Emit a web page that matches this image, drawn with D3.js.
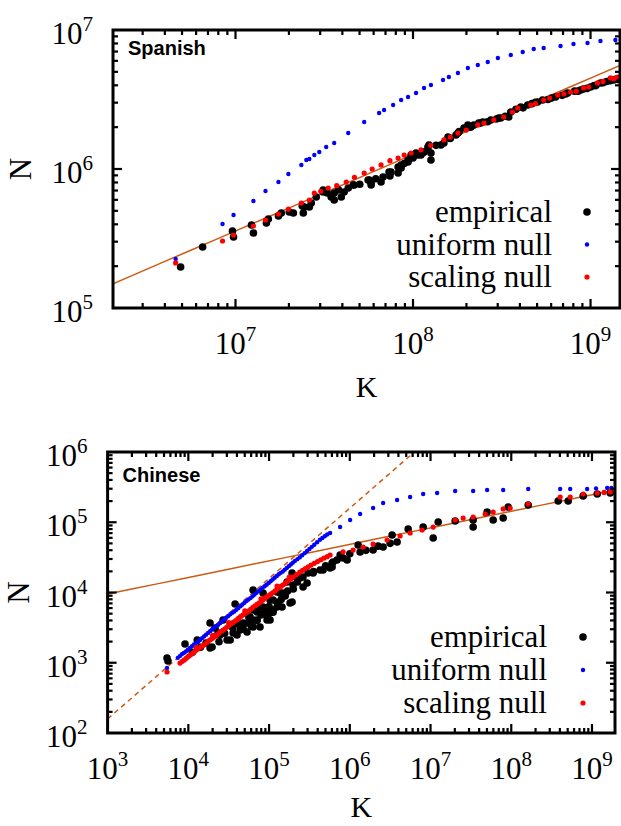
<!DOCTYPE html>
<html><head><meta charset="utf-8">
<script src="https://cdn.jsdelivr.net/npm/d3@7"></script>
<style>body{margin:0;background:#fff}</style>
</head><body>
<script>
// ---- DATA (log10 K, log10 N) ----
const spanishEmpirical = [
 [6.691,5.295],[6.815,5.439],[6.983,5.554],[6.989,5.511],[7.090,5.597],[7.101,5.540],[7.174,5.612],[7.185,5.640],
 [7.242,5.662],[7.258,5.683],[7.303,5.691],[7.326,5.683],[7.382,5.683],[7.376,5.734],[7.416,5.727],[7.455,5.799],
 [7.388,5.727],[7.427,5.755],[7.494,5.835],[7.539,5.799],[7.556,5.777],[7.596,5.799],[7.612,5.835],[7.669,5.885],
 [7.753,5.921],[7.764,5.885],[7.820,5.906],[7.831,5.942],[7.876,5.978],[7.916,5.971],[7.916,6.014],[7.933,6.029],
 [7.972,6.050],[7.989,6.086],[8.028,6.101],[8.062,6.122],[8.084,6.158],[8.101,6.065],[8.101,6.115],[8.157,6.173],
 [8.174,6.187],[8.202,6.223],[8.253,6.259],[8.287,6.295],[8.326,6.302],[8.382,6.331],[8.438,6.353],[8.483,6.367],
 [7.494,5.849],[7.517,5.827],[7.556,5.827],[7.58,5.85],[7.635,5.863],[7.663,5.885],[7.70,5.89],[7.747,5.921],
 [7.764,5.899],[7.79,5.93],[7.865,5.978],[7.87,5.95],[7.933,6.007],[7.95,6.04],[7.972,6.065],[7.989,6.101],
 [8.00,6.08],[8.017,6.115],[8.045,6.101],[8.06,6.12],[8.084,6.137],[8.090,6.173],[8.13,6.17],[8.197,6.230],
 [8.21,6.22],[8.242,6.245],[8.26,6.27],[8.309,6.317],[8.32,6.30],[8.343,6.317],[8.37,6.33],[8.393,6.338],
 [8.42,6.34],[8.47,6.36],[8.494,6.367],[8.52,6.38],[8.539,6.374],[8.551,6.410],[8.58,6.43],[8.607,6.446],
 [8.62,6.44],[8.646,6.460],[8.67,6.47],[8.69,6.48],[8.702,6.482],[8.730,6.496],[8.76,6.50],[8.78,6.51],
 [8.803,6.518],[8.84,6.53],[8.86,6.54],[8.871,6.547],[8.91,6.56],[8.93,6.56],[8.944,6.568],[8.96,6.575],
 [8.98,6.58],[9.000,6.590],[9.02,6.60],[9.03,6.60],[9.056,6.619],[9.07,6.62],[9.09,6.63],[9.11,6.635],
 [9.129,6.640],[9.14,6.645],[9.15,6.645]
];
const spanishUniform = [
 [6.663,5.353],[6.927,5.604],[6.989,5.669],[7.101,5.770],[7.169,5.842],[7.242,5.906],[7.298,5.964],[7.371,6.029],
 [7.399,6.065],[7.416,6.072],[7.444,6.101],[7.472,6.122],[7.511,6.158],[7.556,6.187],[7.635,6.259],[7.725,6.338],
 [7.809,6.403],[7.837,6.424],[7.888,6.460],[7.933,6.496],[7.972,6.518],[8.017,6.547],[8.062,6.583],[8.101,6.604],
 [8.169,6.640],[8.202,6.662],[8.253,6.691],[8.309,6.727],[8.365,6.748],[8.421,6.770],[8.478,6.799],[8.551,6.820],
 [8.618,6.842],[8.680,6.863],[8.736,6.871],[8.831,6.885],[8.904,6.899],[8.983,6.906],[9.056,6.921],[9.140,6.928]
];
const spanishScaling = [
 [6.663,5.324],[6.927,5.482],[6.989,5.525],[7.101,5.590],[7.169,5.633],[7.242,5.676],[7.298,5.712],[7.371,5.755],
 [7.416,5.777],[7.444,5.827],[7.48,5.84],[7.522,5.863],[7.57,5.88],[7.624,5.906],[7.67,5.94],[7.725,5.971],
 [7.77,6.00],[7.820,6.029],[7.87,6.06],[7.916,6.079],[7.95,6.10],[7.989,6.115],[8.045,6.137],[8.10,6.17],
 [8.174,6.209],[8.21,6.23],[8.253,6.259],[8.30,6.28],[8.365,6.317],[8.40,6.33],[8.455,6.353],[8.511,6.374],
 [8.56,6.41],[8.590,6.439],[8.663,6.460],[8.69,6.47],[8.736,6.496],[8.77,6.51],[8.815,6.532],[8.85,6.54],
 [8.888,6.554],[8.92,6.56],[8.961,6.583],[8.99,6.59],[9.039,6.619],[9.07,6.63],[9.112,6.655],[9.13,6.65],[9.152,6.662]
];
const spanishFit = [1.704, 0.55];          // log10 prefactor, exponent
const spanishXTicks = [7, 8, 9];
const spanishYTicks = [5, 6, 7];

const chineseEmpirical = [
 [3.736,3.068],[3.748,3.025],[3.959,3.267],[4.05,3.15],[4.110,3.324],[4.15,3.22],[4.22,3.28],[4.269,3.566],
 [4.269,3.210],[4.331,3.495],[4.38,3.30],[4.393,3.395],[4.45,3.42],[4.480,3.324],[4.518,3.324],[4.555,3.424],
 [4.55,3.50],[4.579,3.836],[4.603,3.395],[4.62,3.55],[4.641,3.466],[4.68,3.48],[4.727,3.566],[4.727,3.438],
 [4.75,3.65],[4.78,3.52],[4.802,3.609],[4.802,3.509],[4.802,4.036],[4.851,3.722],[4.851,3.609],[4.85,3.60],
 [4.888,3.509],[4.90,3.68],[4.926,3.794],[4.926,3.993],[4.95,3.75],[4.975,3.680],[5.00,3.80],[5.012,3.609],
 [5.012,3.708],[5.05,3.72],[5.050,3.893],[5.099,3.794],[5.10,3.86],[5.136,3.993],[5.15,3.90],[5.161,3.794],
 [5.173,3.993],[5.20,3.95],[5.23,4.02],[5.260,3.851],[5.285,4.278],[5.285,3.865],[5.297,4.107],[5.30,4.05],
 [5.35,4.15],[5.384,4.206],[5.42,4.22],[5.471,4.135],[5.483,4.278],[5.55,4.30],[5.632,4.320],[5.70,4.38],
 [4.294,3.224],[4.368,3.423],[4.430,3.609],[4.678,3.566],[4.765,3.651],[4.802,3.751],[4.888,3.794],[4.926,3.708],
 [4.975,3.609],[5.012,3.893],[5.050,3.751],[5.099,4.007],[5.111,3.851],[5.223,4.149],[5.347,4.206],[5.421,4.078],
 [5.545,4.278],[5.669,4.320],[5.793,4.434],[5.781,4.363],
 [5.756,4.349],[5.78,4.42],[5.842,4.463],[5.880,4.534],[5.917,4.491],[5.967,4.463],[6.00,4.55],[6.103,4.676],
 [6.128,4.577],[6.20,4.60],[6.289,4.605],[6.35,4.66],[6.413,4.648],[6.50,4.70],[6.524,4.819],[6.586,4.719],
 [6.723,4.904],[6.909,4.932],[7.033,4.776],[7.095,5.004],[7.305,5.018],[7.528,5.032],[7.528,4.932],[7.701,5.146],
 [7.776,5.032],[7.900,5.060],[7.962,5.217],[8.210,5.246],[8.581,5.302],[8.705,5.302],[8.891,5.374],[9.065,5.402],
 [9.226,5.416]
];
const chineseUniform = [
 [3.736,2.925],[3.87,3.07],[3.92,3.12],[3.97,3.16],[4.02,3.21],[4.07,3.26],[4.12,3.30],[4.17,3.35],[4.22,3.40],
 [4.27,3.45],[4.32,3.50],[4.37,3.54],[4.42,3.59],[4.47,3.64],[4.52,3.69],[4.57,3.73],[4.62,3.78],[4.67,3.83],
 [4.72,3.88],[4.77,3.92],[4.82,3.97],[4.87,4.02],[4.92,4.07],[4.97,4.11],[5.02,4.16],[5.07,4.21],[5.12,4.26],
 [5.17,4.30],[5.22,4.35],[5.27,4.40],[5.32,4.45],[5.38,4.50],[5.44,4.56],[5.50,4.62],[5.56,4.68],[5.63,4.75],
 [3.895,3.095],[3.945,3.14],[3.995,3.185],[4.045,3.235],[4.095,3.28],[4.145,3.325],[4.195,3.375],[4.245,3.425],
 [4.295,3.475],[4.345,3.52],[4.395,3.565],[4.445,3.615],[4.495,3.665],[4.545,3.71],[4.595,3.755],[4.645,3.805],
 [4.695,3.855],[4.745,3.90],[4.795,3.945],[4.845,3.995],[4.895,4.045],[4.945,4.09],[4.995,4.135],[5.045,4.185],
 [5.095,4.235],[5.145,4.28],[5.195,4.325],[5.245,4.375],[5.295,4.425],[5.35,4.475],[5.41,4.53],[5.47,4.59],
 [5.53,4.65],[5.595,4.715],[5.66,4.775],[5.72,4.825],
 [5.69,4.80],[5.756,4.847],[5.880,4.932],[6.004,5.032],[6.128,5.117],[6.289,5.203],[6.413,5.274],[6.586,5.317],
 [6.747,5.359],[6.909,5.402],[7.082,5.416],[7.305,5.445],[7.528,5.445],[7.701,5.459],[7.900,5.459],[8.210,5.473],
 [8.606,5.473],[8.730,5.473],[8.940,5.473],[9.05,5.48],[9.188,5.488],[9.24,5.49]
];
const chineseScaling = [
 [3.736,2.868],[3.897,2.996],[3.95,3.04],[4.00,3.09],[4.05,3.13],[4.10,3.18],[4.15,3.22],[4.20,3.26],[4.25,3.31],
 [4.30,3.35],[4.35,3.39],[4.40,3.44],[4.45,3.48],[4.50,3.53],[4.55,3.57],[4.60,3.61],[4.65,3.66],[4.70,3.70],
 [4.75,3.74],[4.80,3.79],[4.85,3.83],[4.90,3.87],[4.95,3.92],[5.00,3.96],[5.05,4.00],[5.10,4.05],[5.15,4.09],
 [5.20,4.13],[5.25,4.18],[5.30,4.22],[5.38,4.29],[5.45,4.34],[5.52,4.39],[5.60,4.44],[5.68,4.49],
 [3.925,3.02],[3.975,3.065],[4.025,3.11],[4.075,3.155],[4.125,3.20],[4.175,3.24],[4.225,3.285],[4.275,3.33],
 [4.325,3.37],[4.375,3.415],[4.425,3.46],[4.475,3.505],[4.525,3.55],[4.575,3.59],[4.625,3.635],[4.675,3.68],
 [4.725,3.72],[4.775,3.765],[4.825,3.81],[4.875,3.85],[4.925,3.895],[4.975,3.94],[5.025,3.98],[5.075,4.025],
 [5.125,4.07],[5.175,4.11],[5.225,4.155],[5.275,4.20],[5.34,4.255],[5.415,4.315],[5.485,4.365],[5.56,4.415],
 [5.64,4.465],[5.72,4.51],
 [4.10,3.22],[4.30,3.39],[4.50,3.57],[4.70,3.74],[4.90,3.91],[5.10,4.09],[5.25,4.22],
 [5.756,4.534],
 [5.917,4.577],[6.041,4.605],[6.165,4.648],[6.289,4.690],[6.462,4.747],[6.623,4.804],[6.747,4.847],[6.896,4.890],
 [7.033,4.932],[7.305,5.032],[7.404,5.060],[7.528,5.075],[7.677,5.117],[7.776,5.146],[7.900,5.189],[7.987,5.203],
 [8.210,5.260],[8.606,5.359],[8.730,5.359],[8.891,5.402],[9.065,5.416],[9.15,5.425],[9.226,5.431]
];
const chineseFitSmall = [-0.8, 1.0];       // dashed
const chineseFitLarge = [3.272, 0.2355];   // solid
const chineseXTicks = [3, 4, 5, 6, 7, 8, 9];
const chineseYTicks = [2, 3, 4, 5, 6];

const legendLabels = ["empirical", "uniform null", "scaling null"];
const seriesColors = ["#000000", "#0000ff", "#ff0000"];
const seriesRadius = [3.8, 2.2, 2.6];
const fitColor = "#cc5a14";

// ---- DRAW ----
const svg = d3.select("body").append("svg").attr("width", 621).attr("height", 826)
  .style("font-family", "'Liberation Serif', serif");

const panels = [
  {name: "Spanish", series: [spanishEmpirical, spanishUniform, spanishScaling],
   fits: [{c: spanishFit, dash: null}], xDom: [6.31, 9.166], yDom: [5, 7],
   box: {l: 113, r: 620, t: 30, b: 308}, xTicks: spanishXTicks, yTicks: spanishYTicks,
   legend: {tx: 552, mx: 587, y0: 222, dy: 32.5}, nameY: 55, kY: 397, nX: 21},
  {name: "Chinese", series: [chineseEmpirical, chineseUniform, chineseScaling],
   fits: [{c: chineseFitSmall, dash: "5,4"}, {c: chineseFitLarge, dash: null}], xDom: [3, 9.285], yDom: [2, 6],
   box: {l: 107.6, r: 615, t: 452, b: 733}, xTicks: chineseXTicks, yTicks: chineseYTicks,
   legend: {tx: 547, mx: 583, y0: 647, dy: 33}, nameY: 482, kY: 817, nX: 19}
];

panels.forEach((p, pi) => {
  const b = p.box;
  const g = svg.append("g");
  const x = d3.scaleLog().domain([10 ** p.xDom[0], 10 ** p.xDom[1]]).range([b.l, b.r]);
  const y = d3.scaleLog().domain([10 ** p.yDom[0], 10 ** p.yDom[1]]).range([b.b, b.t]);
  const clipId = "clip" + pi;
  g.append("clipPath").attr("id", clipId).append("rect")
    .attr("x", b.l).attr("y", b.t).attr("width", b.r - b.l).attr("height", b.b - b.t);
  const inner = g.append("g").attr("clip-path", `url(#${clipId})`);

  // fit lines
  const line = d3.line().x(d => x(d[0])).y(d => y(d[1]));
  p.fits.forEach(f => {
    const pts = d3.range(0, 21).map(i => {
      const lk = p.xDom[0] + (p.xDom[1] - p.xDom[0]) * i / 20;
      return [10 ** lk, 10 ** (f.c[0] + f.c[1] * lk)];
    });
    inner.append("path").attr("d", line(pts)).attr("fill", "none")
      .attr("stroke", fitColor).attr("stroke-width", 1.5)
      .attr("stroke-dasharray", f.dash);
  });

  // points
  p.series.forEach((s, si) => {
    inner.append("g").selectAll("circle").data(s).join("circle")
      .attr("cx", d => x(10 ** d[0])).attr("cy", d => y(10 ** d[1]))
      .attr("r", seriesRadius[si]).attr("fill", seriesColors[si]);
  });

  // ticks (inward, mirrored)
  const tg = g.append("g").attr("stroke", "#000").attr("stroke-width", 2.2);
  const isMajor = v => Math.abs(Math.log10(v) - Math.round(Math.log10(v))) < 1e-6;
  x.ticks().forEach(v => {
    const X = x(v); if (X < b.l + 1 || X > b.r - 1) return;
    const len = isMajor(v) ? 9 : 5;
    tg.append("line").attr("x1", X).attr("x2", X).attr("y1", b.b).attr("y2", b.b - len);
    tg.append("line").attr("x1", X).attr("x2", X).attr("y1", b.t).attr("y2", b.t + len);
  });
  y.ticks().forEach(v => {
    const Y = y(v); if (Y < b.t + 1 || Y > b.b - 1) return;
    const len = isMajor(v) ? 9 : 5;
    tg.append("line").attr("y1", Y).attr("y2", Y).attr("x1", b.l).attr("x2", b.l + len);
    tg.append("line").attr("y1", Y).attr("y2", Y).attr("x1", b.r).attr("x2", b.r - len);
  });

  // frame
  g.append("rect").attr("x", b.l).attr("y", b.t).attr("width", b.r - b.l).attr("height", b.b - b.t)
    .attr("fill", "none").attr("stroke", "#000").attr("stroke-width", 3);

  // tick labels
  const powLabel = (sel, e) => {
    sel.append("tspan").text("10");
    sel.append("tspan").attr("dy", -13).attr("font-size", 21).text(e);
  };
  p.xTicks.forEach(e => {
    const t = g.append("text").attr("x", x(10 ** e)).attr("y", b.b + 46)
      .attr("text-anchor", "middle").attr("font-size", 31);
    powLabel(t, e);
  });
  p.yTicks.forEach(e => {
    const t = g.append("text").attr("x", b.l - 20).attr("y", y(10 ** e) + 14)
      .attr("text-anchor", "end").attr("font-size", 31);
    powLabel(t, e);
  });

  // axis titles
  g.append("text").attr("x", (b.l + b.r) / 2).attr("y", p.kY).attr("text-anchor", "middle")
    .attr("font-size", 30).text("K");
  g.append("text").attr("transform", `translate(${p.nX + 10},${(b.t + b.b) / 2}) rotate(-90)`)
    .attr("text-anchor", "middle").attr("font-size", 31).text("N");

  // panel name
  g.append("text").attr("x", b.l + 15).attr("y", p.nameY)
    .style("font-family", "'Liberation Sans', Arial, sans-serif").attr("font-weight", "bold")
    .attr("font-size", 20).text(p.name);

  // legend
  legendLabels.forEach((lab, i) => {
    const ly = p.legend.y0 + i * p.legend.dy;
    g.append("text").attr("x", p.legend.tx).attr("y", ly).attr("text-anchor", "end")
      .attr("font-size", 31).text(lab);
    g.append("circle").attr("cx", p.legend.mx).attr("cy", ly - 10)
      .attr("r", seriesRadius[i]).attr("fill", seriesColors[i]);
  });
});
</script>
</body></html>
